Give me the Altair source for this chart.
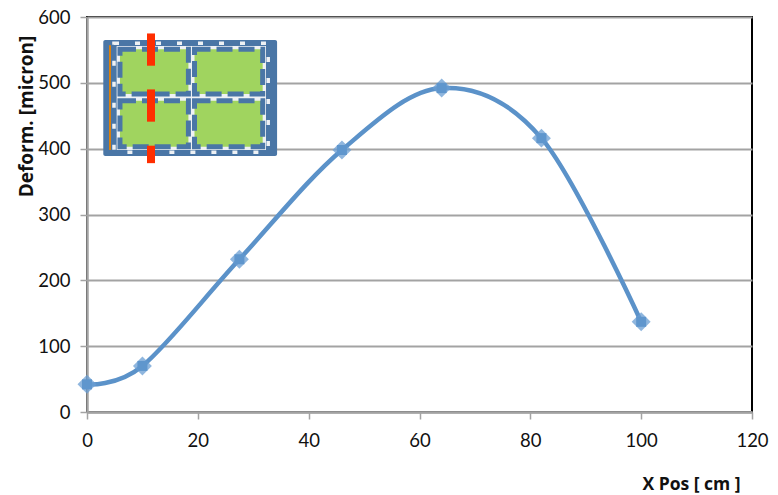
import altair as alt
import pandas as pd

x_pos = [0, 10, 27.5, 46, 64, 82, 100]
deform = [42, 70, 232, 398, 492, 416, 137]

# inset diagram, in chart data units: x, x2, y, y2
panel_box = (2.94, 34.3, 565, 389)
ring_box = (4.87, 32.7, 560, 394.5)
white_box = (5.35, 32.3, 556, 398)
cell_boxes = [
    (5.95, 18.3, 551, 483), (19.4, 31.7, 551, 483),
    (5.95, 18.3, 472.6, 403), (19.4, 31.7, 472.6, 403),
]
orange_line = (4.15, 4.15, 557, 398)
red_bars = [
    (10.83, 12.27, 575, 526), (10.83, 12.27, 490, 441), (10.83, 12.27, 404.5, 378),
]

curve = pd.DataFrame({"x": x_pos, "y": deform})


def boxes(rows):
    return pd.DataFrame(rows, columns=["x", "x2", "y", "y2"])


xs = alt.Scale(domain=[0, 120], nice=False)
ys = alt.Scale(domain=[0, 600], nice=False)
X = alt.X(
    "x:Q",
    scale=xs,
    axis=alt.Axis(
        values=[0, 20, 40, 60, 80, 100, 120], title="X Pos [ cm ]", grid=False,
        domainColor="#a3a3a3", domainWidth=2.5, tickColor="#a3a3a3", tickWidth=1.5, tickSize=7,
        labelFont="Lato", labelFontSize=18.5, labelColor="#111111", labelPadding=12, labelFlush=False,
        titleFont="Open Sans", titleFontSize=17.5, titleFontWeight="bold", titleColor="#111111",
        titleX=604, titleY=72, titleAlign="center", titleBaseline="middle",
    ),
)
Y = alt.Y(
    "y:Q",
    scale=ys,
    axis=alt.Axis(
        values=[0, 100, 200, 300, 400, 500, 600], title="Deform. [micron]",
        grid=True, gridColor="#a3a3a3", gridWidth=2,
        domainColor="#a3a3a3", domainWidth=2.5, tickColor="#a3a3a3", tickWidth=1.5, tickSize=7,
        labelFont="Lato", labelFontSize=18.5, labelColor="#111111", labelPadding=10, labelFlush=False,
        titleFont="Open Sans", titleFontSize=19, titleFontWeight="bold", titleColor="#111111",
        titleX=-61, titleY=99, titleAlign="center", titleBaseline="middle",
    ),
)

line = alt.Chart(curve).mark_line(
    interpolate="cardinal", tension=0, color="#5b92c9", strokeWidth=4.5
).encode(x=X, y=Y)
halo = alt.Chart(curve).mark_point(
    shape="diamond", filled=True, size=360, color="#6a9dd3", opacity=0.75
).encode(x=X, y=Y)
dots = alt.Chart(curve).mark_point(
    shape="square", filled=True, size=100, color="#5f96cd", opacity=1
).encode(x=X, y=Y)


def rect(rows, **kw):
    return alt.Chart(boxes(rows)).mark_rect(**kw).encode(x=X, x2="x2:Q", y=Y, y2="y2:Q")


panel = rect([panel_box], color="#4a76a6", cornerRadius=2)
ring = rect([ring_box], fillOpacity=0, stroke="#eef1f4", strokeWidth=3.5, strokeDash=[5, 16])
white = rect([white_box], color="#eef1f4")
cells = rect(cell_boxes, color="#a0d45f", stroke="#4a76a6", strokeWidth=5, strokeDash=[16, 6])
orange = rect([orange_line], stroke="#d9800f", strokeWidth=2, fillOpacity=0)
red = rect(red_bars, color="#ff2e00")

chart = (
    alt.layer(line, halo, dots, panel, ring, white, cells, orange, red)
    .properties(
        width=665,
        height=395,
        autosize=alt.AutoSizeParams(type="none"),
        padding={"left": 79, "top": 9, "right": 18, "bottom": 82},
        background="white",
    )
    .configure_view(stroke="#000000", strokeWidth=2)
)

chart.save("out.html", embed_options={"renderer": "svg", "actions": False})
